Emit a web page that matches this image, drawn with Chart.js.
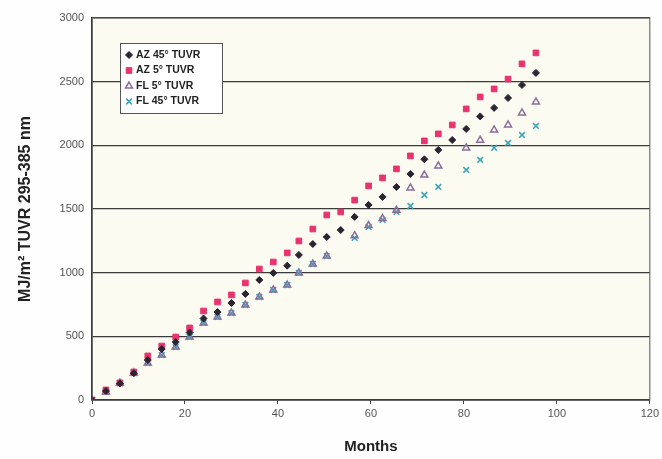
<!DOCTYPE html>
<html>
<head>
<meta charset="utf-8">
<script src="https://cdn.jsdelivr.net/npm/chart.js@4.4.0/dist/chart.umd.min.js"></script>
<style>
  html, body { margin: 0; padding: 0; background: #fefefe; }
  #wrap { width: 662px; height: 459px; }
</style>
</head>
<body>
<div id="wrap"><canvas id="myChart" width="662" height="459"></canvas></div>
<script>
// months at which readings were taken (roughly every 3 months)
const months = [0, 3, 6, 9, 12, 15, 18, 21, 24, 27, 30, 33, 36, 39, 42, 44.5, 47.5, 50.5, 53.5,
    56.5, 59.5, 62.5, 65.5, 68.5, 71.5, 74.5, 77.5, 80.5, 83.5, 86.5, 89.5, 92.5, 95.5];

const az45 = [0, 70, 130, 210, 314, 400, 455, 530, 640, 691, 762, 833, 943, 998, 1055, 1139, 1225, 1280, 1335,
    1438, 1532, 1595, 1673, 1775, 1890, 1964, 2042, 2129, 2227, 2294, 2372, 2474, 2569];
const az5 = [0, 79, 134, 220, 346, 424, 495, 566, 699, 770, 825, 919, 1029, 1084, 1155, 1249, 1343, 1453, 1477,
    1570, 1681, 1744, 1815, 1917, 2035, 2090, 2160, 2286, 2380, 2443, 2520, 2640, 2726];
const fl5 = [0, 63, 134, 212, 290, 353, 416, 495, 605, 652, 683, 746, 809, 864, 903, 998, 1068, 1130, null,
    1290, 1370, 1425, 1490, 1665, 1767, 1838, null, 1980, 2040, 2121, 2160, 2254, 2341];
const fl45 = [0, 63, 134, 212, 290, 353, 416, 495, 605, 652, 683, 746, 809, 864, 903, 998, 1068, 1130, null,
    1273, 1359, 1414, 1477, 1524, 1610, 1673, null, 1807, 1885, 1980, 2019, 2082, 2152];

const seriesNames = ["AZ 45\u00b0 TUVR", "AZ 5\u00b0 TUVR", "FL 5\u00b0 TUVR", "FL 45\u00b0 TUVR"];
const yTicks = [0, 500, 1000, 1500, 2000, 2500, 3000];
const xTicks = [0, 20, 40, 60, 80, 100, 120];

function toPoints(values) {
    const pts = [];
    for (let i = 0; i < months.length; i++) {
        if (values[i] !== null) pts.push({ x: months[i], y: values[i] });
    }
    return pts;
}

// cream plot area with a box around it
const plotBox = {
    id: 'plotBox',
    beforeDraw(chart) {
        const { ctx, chartArea: a } = chart;
        ctx.save();
        ctx.fillStyle = '#fbfbf2';
        ctx.fillRect(a.left, a.top, a.right - a.left, a.bottom - a.top);
        ctx.restore();
    },
    afterDatasetsDraw(chart) {
        const { ctx, chartArea: a } = chart;
        ctx.save();
        ctx.strokeStyle = '#555';
        ctx.lineWidth = 1;
        ctx.strokeRect(a.left, a.top, a.right - a.left, a.bottom - a.top);
        ctx.restore();
    }
};

// boxed legend sitting inside the plot, top left
const boxLegend = {
    id: 'boxLegend',
    afterDraw(chart) {
        const ctx = chart.ctx;
        const x0 = 120, y0 = 43, w = 102, h = 70;
        ctx.save();
        ctx.fillStyle = '#ffffff';
        ctx.fillRect(x0, y0, w, h);
        ctx.strokeStyle = '#555';
        ctx.lineWidth = 1;
        ctx.strokeRect(x0 + 0.5, y0 + 0.5, w, h);
        ctx.font = 'bold 10.5px "Liberation Sans", Arial, sans-serif';
        ctx.textBaseline = 'middle';
        chart.data.datasets.forEach((ds, i) => {
            const cy = y0 + 12 + i * 15.5;
            ctx.fillStyle = ds.backgroundColor;
            ctx.strokeStyle = ds.borderColor;
            ctx.lineWidth = ds.borderWidth;
            Chart.helpers.drawPoint(ctx, {
                pointStyle: ds.pointStyle,
                radius: ds.pointRadius,
                borderWidth: ds.borderWidth
            }, x0 + 9, cy);
            ctx.fillStyle = '#222';
            ctx.fillText(ds.label, x0 + 16, cy);
        });
        ctx.restore();
    }
};

let ctx = document.getElementById('myChart').getContext('2d');
let myChart = new Chart(ctx, {
    type: 'scatter',
    data: {
        datasets: [{
            label: seriesNames[0],
            data: toPoints(az45),
            pointStyle: 'rectRot',
            pointRadius: 3.5,
            backgroundColor: '#2a2530',
            borderColor: '#2a2530',
            borderWidth: 1
        }, {
            label: seriesNames[1],
            data: toPoints(az5),
            pointStyle: 'rect',
            pointRadius: 4,
            backgroundColor: '#e8336e',
            borderColor: '#e8336e',
            borderWidth: 1
        }, {
            label: seriesNames[2],
            data: toPoints(fl5),
            pointStyle: 'triangle',
            pointRadius: 4,
            backgroundColor: 'rgba(0,0,0,0)',
            borderColor: '#8a6d9c',
            borderWidth: 1.5
        }, {
            label: seriesNames[3],
            data: toPoints(fl45),
            pointStyle: 'crossRot',
            pointRadius: 4,
            backgroundColor: '#3aa5b8',
            borderColor: '#3aa5b8',
            borderWidth: 1.6
        }]
    },
    options: {
        responsive: false,
        animation: false,
        layout: { padding: { left: 0, top: 18, right: 10, bottom: 0 } },
        plugins: {
            legend: { display: false },
            tooltip: { enabled: false }
        },
        scales: {
            x: {
                type: 'linear',
                min: 0,
                max: 120,
                afterBuildTicks: s => { s.ticks = xTicks.map(v => ({ value: v })); },
                afterFit: s => { s.height = 59; },
                border: { color: '#222', width: 1.5 },
                grid: { drawOnChartArea: false, tickLength: 4, color: '#444' },
                ticks: {
                    color: '#555', padding: 3,
                    font: { size: 11, family: '"Liberation Sans", Arial, sans-serif' },
                    callback: v => String(v)
                },
                title: {
                    display: true,
                    text: 'Months',
                    color: '#222',
                    padding: { top: 0, bottom: 3 },
                    font: { size: 15, weight: 'bold', family: '"Liberation Sans", Arial, sans-serif' }
                }
            },
            y: {
                min: 0,
                max: 3000,
                afterBuildTicks: s => { s.ticks = yTicks.map(v => ({ value: v })); },
                afterFit: s => { s.width = 92; },
                border: { color: '#222', width: 1.5 },
                grid: { drawTicks: false, color: '#3a3a3a', lineWidth: 1.3 },
                ticks: {
                    color: '#555', padding: 8,
                    font: { size: 11, family: '"Liberation Sans", Arial, sans-serif' },
                    callback: v => String(v)
                },
                title: {
                    display: true,
                    text: 'MJ/m\u00b2 TUVR 295-385 nm',
                    color: '#222',
                    padding: { top: 16, bottom: 0 },
                    font: { size: 16, weight: 'bold', family: '"Liberation Sans", Arial, sans-serif' }
                }
            }
        }
    },
    plugins: [plotBox, boxLegend]
});
</script>
</body>
</html>
